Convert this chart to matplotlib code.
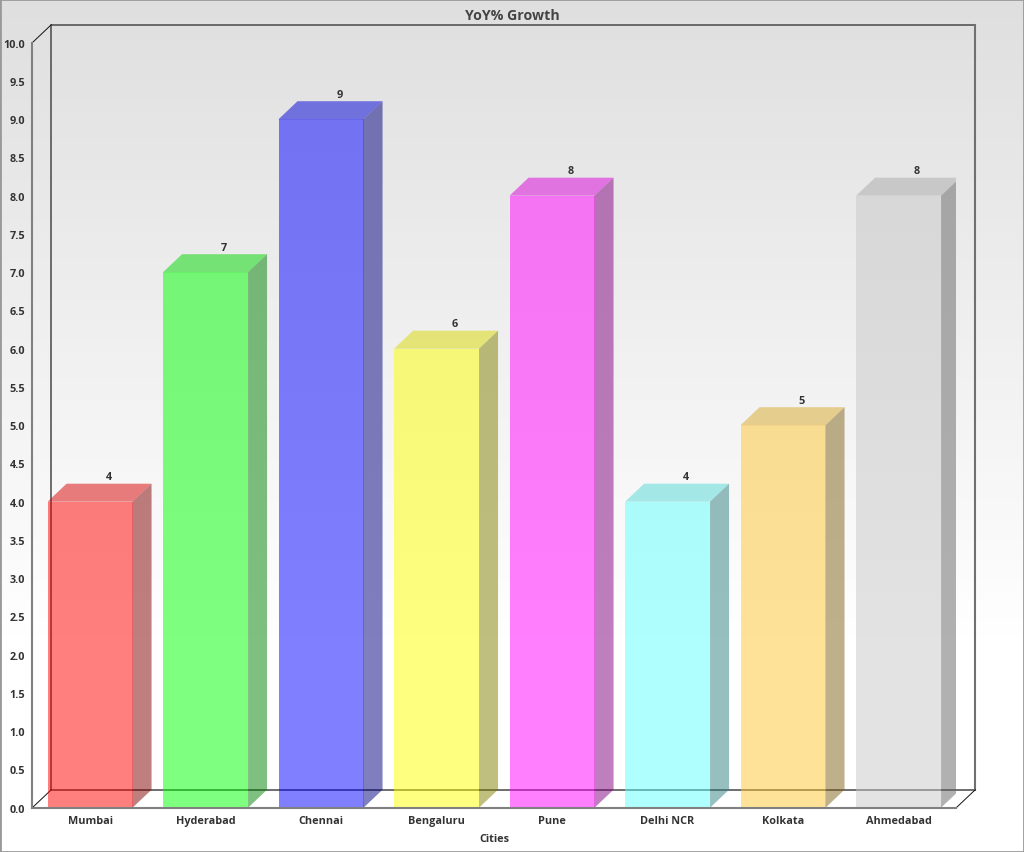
import numpy as np
import matplotlib
matplotlib.use('Agg')
import matplotlib.pyplot as plt
from matplotlib.patches import Polygon, Rectangle

cities = ['Mumbai', 'Hyderabad', 'Chennai', 'Bengaluru', 'Pune', 'Delhi NCR', 'Kolkata', 'Ahmedabad']
growth = [4, 7, 9, 6, 8, 4, 5, 8]
colors = ['#ff0000', '#00ff00', '#0000ff', '#ffff00', '#ff00ff', '#62ffff', '#fdc630', '#c8c8c8']
y_ticks = [i * 0.5 for i in range(21)]

W, H = 1024, 853
BAR_WIDTH = 85 / 115.5
DEPTH_X = 19 / 115.5
DEPTH_Y = 18 / 76.5

plt.rcParams['font.family'] = ['Open Sans', 'DejaVu Sans']


def shade(color, factor):
    rgb = np.array(matplotlib.colors.to_rgb(color))
    return tuple(rgb * factor)


def draw_bar(ax, x, value, color):
    left, right = x - BAR_WIDTH / 2, x + BAR_WIDTH / 2
    front = [(left, 0), (right, 0), (right, value), (left, value)]
    top = [(left, value), (right, value), (right + DEPTH_X, value + DEPTH_Y), (left + DEPTH_X, value + DEPTH_Y)]
    side = [(right, 0), (right + DEPTH_X, DEPTH_Y), (right + DEPTH_X, value + DEPTH_Y), (right, value)]
    ax.add_patch(Polygon(front, facecolor=color, alpha=0.5, edgecolor='none', zorder=3))
    ax.add_patch(Polygon(top, facecolor=shade(color, 0.85), alpha=0.5, edgecolor='none', zorder=3))
    ax.add_patch(Polygon(side, facecolor=shade(color, 0.5), alpha=0.5, edgecolor='none', zorder=3))
    ax.text(x + DEPTH_X - 0.005, value + DEPTH_Y + 0.02, str(value), ha='center', va='bottom',
            fontsize=7.8, fontweight='bold', color='#333333', zorder=4)


def main():
    fig = plt.figure(figsize=(W / 100, H / 100), dpi=100)

    # background gradient, white from about three quarters down
    bg = fig.add_axes([0, 0, 1, 1], zorder=0)
    gradient = np.clip(np.arange(H) / 640, 0, 1).reshape(-1, 1)
    bg.imshow(gradient, cmap=matplotlib.colors.LinearSegmentedColormap.from_list('bg', ['#dfdfdf', '#ffffff']),
              aspect='auto', vmin=0, vmax=1)
    bg.axis('off')

    ax = fig.add_axes([32.3 / W, 1 - 808.7 / H, 924 / W, 765 / H], zorder=1)
    ax.patch.set_alpha(0)
    ax.set_xlim(-0.5, len(cities) - 0.5)
    ax.set_ylim(0, 10)

    # back wall and floor edges
    x0, x1 = -0.5, len(cities) - 0.5
    dark = dict(color='#555555', lw=1.2, clip_on=False, zorder=2)
    ax.plot([x1 + DEPTH_X, x0 + DEPTH_X, x0 + DEPTH_X, x1 + DEPTH_X],
            [10 + DEPTH_Y, 10 + DEPTH_Y, DEPTH_Y, DEPTH_Y], **dark)
    ax.plot([x1 + DEPTH_X, x1 + DEPTH_X], [DEPTH_Y, 10 + DEPTH_Y], color='#707070', lw=1.5,
            clip_on=False, zorder=2)
    thin = dict(color='#111111', lw=0.7, clip_on=False, zorder=2)
    ax.plot([x0, x0 + DEPTH_X], [0, DEPTH_Y], **thin)
    ax.plot([x0, x0 + DEPTH_X], [10, 10 + DEPTH_Y], **thin)
    ax.plot([x1, x1 + DEPTH_X], [0, DEPTH_Y], **thin)

    for i, (value, color) in enumerate(zip(growth, colors)):
        draw_bar(ax, i, value, color)

    for name in ['top', 'right']:
        ax.spines[name].set_visible(False)
    for name in ['left', 'bottom']:
        ax.spines[name].set_color('#808080')
        ax.spines[name].set_linewidth(1.5)
        ax.spines[name].set_zorder(5)

    ax.set_xticks(range(len(cities)))
    ax.set_xticklabels(cities)
    ax.set_yticks(y_ticks)
    ax.set_yticklabels([f'{t:.1f}' for t in y_ticks])
    ax.tick_params(axis='both', length=0, labelsize=7.8, labelcolor='#333333')
    ax.tick_params(axis='x', pad=5)
    ax.tick_params(axis='y', pad=5)
    for label in ax.get_xticklabels() + ax.get_yticklabels():
        label.set_fontweight('bold')

    ax.set_xlabel('Cities', fontsize=7.8, fontweight='bold', color='#333333', labelpad=5)
    fig.text(0.5, 1 - 16 / H, 'YoY% Growth', ha='center', va='center', fontsize=10.2,
             fontweight='bold', color='#444444')

    fig.add_artist(Rectangle((0, 0), 1, 1, transform=fig.transFigure, fill=False,
                             edgecolor='#999999', lw=2))
    fig.savefig('out.png', dpi=100)


if __name__ == "__main__":
    main()
